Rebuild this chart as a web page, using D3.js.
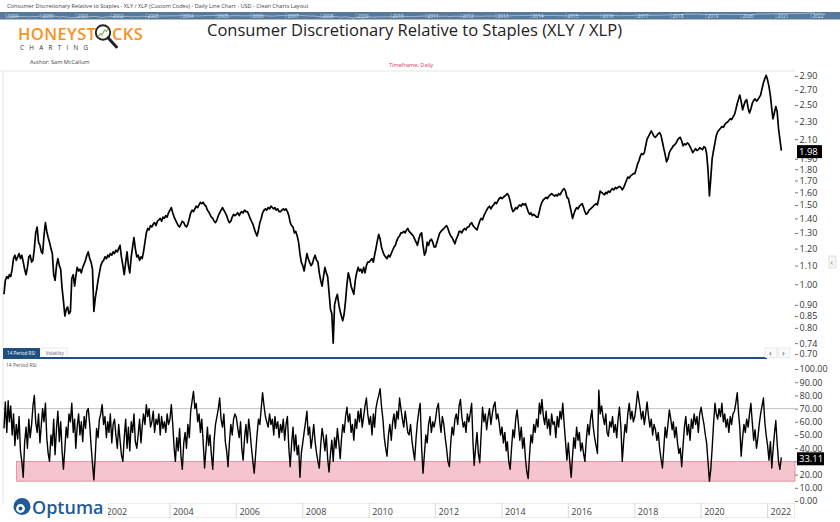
<!DOCTYPE html>
<html>
<head>
<meta charset="utf-8">
<script src="https://cdn.jsdelivr.net/npm/d3@7"></script>
<style>
  body { margin: 0; background: #fff; }
  svg { display: block; font-family: "Open Sans", "Segoe UI", sans-serif; }
</style>
</head>
<body>
<script>
const xlyXlp = [
  0.95,1.02,1.04,1.03,1.05,1.04,1.08,1.14,1.16,1.13,1.15,1.17,1.14,1.16,1.12,1.08,1.05,1.09,1.15,1.16,1.12,1.13,1.20,1.30, // 1999
  1.34,1.24,1.22,1.18,1.17,1.28,1.37,1.31,1.27,1.24,1.20,1.17,1.05,1.02,1.10,1.14,1.10,1.08,0.98,0.92,0.85,0.88,0.89,0.86, // 2000
  0.87,1.03,1.05,0.99,1.04,1.09,1.07,1.08,1.06,1.09,1.11,1.13,1.16,1.18,1.14,1.12,1.08,0.87,0.93,0.97,1.02,1.06,1.10,1.12, // 2001
  1.13,1.15,1.14,1.16,1.15,1.17,1.16,1.18,1.17,1.19,1.18,1.20,1.22,1.15,1.10,1.05,1.12,1.18,1.10,1.06,1.15,1.21,1.27,1.20, // 2002
  1.15,1.16,1.13,1.15,1.14,1.18,1.24,1.30,1.33,1.32,1.35,1.34,1.36,1.37,1.35,1.38,1.39,1.40,1.38,1.41,1.40,1.42,1.41,1.44, // 2003
  1.46,1.48,1.44,1.41,1.39,1.37,1.35,1.34,1.36,1.38,1.37,1.35,1.34,1.36,1.40,1.44,1.46,1.45,1.47,1.49,1.48,1.50,1.52,1.51, // 2004
  1.52,1.50,1.49,1.46,1.45,1.43,1.41,1.40,1.38,1.37,1.39,1.42,1.44,1.46,1.48,1.46,1.44,1.42,1.39,1.37,1.38,1.41,1.43,1.42, // 2005
  1.43,1.44,1.42,1.44,1.45,1.44,1.46,1.45,1.45,1.43,1.40,1.38,1.36,1.33,1.30,1.28,1.32,1.37,1.40,1.44,1.46,1.47,1.46,1.48, // 2006
  1.47,1.49,1.48,1.47,1.48,1.46,1.47,1.45,1.45,1.46,1.47,1.46,1.47,1.45,1.42,1.37,1.35,1.34,1.30,1.31,1.28,1.24,1.17,1.12, // 2007
  1.10,1.07,1.12,1.17,1.14,1.12,1.10,1.11,1.14,1.16,1.13,1.12,1.06,1.02,0.99,1.04,1.09,1.06,1.04,0.96,0.88,0.86,0.74,0.90, // 2008
  0.93,0.95,0.90,0.87,0.85,0.83,0.86,0.92,1.00,1.06,1.03,0.99,0.97,0.95,1.02,1.06,1.09,1.07,1.08,1.06,1.09,1.06,1.10,1.12, // 2009
  1.12,1.13,1.14,1.12,1.16,1.20,1.25,1.29,1.26,1.21,1.18,1.16,1.15,1.14,1.16,1.15,1.17,1.19,1.21,1.22,1.25,1.27,1.28,1.30, // 2010
  1.30,1.31,1.30,1.32,1.33,1.31,1.30,1.29,1.28,1.26,1.24,1.22,1.26,1.29,1.30,1.22,1.16,1.18,1.24,1.22,1.25,1.26,1.24,1.21, // 2011
  1.21,1.24,1.27,1.30,1.31,1.32,1.33,1.34,1.35,1.33,1.30,1.28,1.27,1.25,1.23,1.26,1.28,1.31,1.31,1.30,1.32,1.33,1.32,1.34, // 2012
  1.34,1.36,1.37,1.35,1.34,1.33,1.32,1.35,1.38,1.40,1.39,1.42,1.44,1.46,1.48,1.49,1.47,1.49,1.50,1.52,1.51,1.53,1.55,1.56, // 2013
  1.55,1.56,1.57,1.58,1.59,1.57,1.53,1.48,1.45,1.46,1.48,1.47,1.49,1.50,1.49,1.51,1.50,1.51,1.48,1.45,1.43,1.44,1.42,1.43, // 2014
  1.42,1.41,1.41,1.45,1.49,1.52,1.54,1.55,1.56,1.55,1.57,1.58,1.59,1.58,1.57,1.58,1.57,1.59,1.58,1.60,1.62,1.63,1.61,1.56, // 2015
  1.55,1.50,1.45,1.40,1.43,1.46,1.48,1.47,1.49,1.50,1.51,1.48,1.45,1.43,1.44,1.46,1.47,1.48,1.49,1.50,1.51,1.50,1.55,1.61, // 2016
  1.60,1.59,1.58,1.60,1.59,1.61,1.60,1.62,1.63,1.62,1.64,1.63,1.64,1.65,1.64,1.62,1.64,1.67,1.70,1.73,1.72,1.74,1.75,1.76, // 2017
  1.76,1.80,1.85,1.88,1.92,1.95,1.94,1.96,2.03,2.10,2.13,2.16,2.19,2.16,2.13,2.12,2.14,2.16,2.17,2.14,2.07,2.00,1.94,1.87, // 2018
  1.90,1.96,1.99,2.01,2.03,2.04,2.06,2.09,2.11,2.12,2.08,2.03,2.05,2.04,2.06,2.05,2.02,1.99,1.96,1.98,2.00,1.98,1.99,2.01, // 2019
  2.00,1.99,2.02,2.01,1.95,1.80,1.57,1.72,1.90,1.98,2.06,2.14,2.18,2.20,2.22,2.24,2.23,2.26,2.28,2.29,2.31,2.33,2.32,2.35, // 2020
  2.38,2.44,2.52,2.58,2.63,2.55,2.44,2.50,2.55,2.57,2.46,2.40,2.45,2.52,2.56,2.58,2.55,2.57,2.60,2.63,2.72,2.80,2.86,2.91, // 2021
  2.84,2.75,2.62,2.45,2.33,2.40,2.48,2.42,2.22,2.10,1.98                                                                   // 2022
];

// 14 period RSI, same dates
const rsi14 = [
  55,75,52,76,60,72,50,66,42,58,47,64,38,30,18,44,56,40,62,48,58,72,80,60, // 1999
  52,66,44,58,70,60,74,48,36,30,50,42,62,35,55,68,45,60,38,24,40,56,48,66, // 2000
  60,74,52,62,40,56,66,50,60,45,64,55,68,70,58,42,28,16,34,55,48,62,66,73, // 2001
  58,64,48,60,52,66,44,58,62,50,40,58,46,35,30,48,62,40,56,38,60,52,66,45, // 2002
  40,50,62,44,56,66,58,73,64,70,56,60,68,52,62,58,66,50,64,55,60,52,66,58, // 2003
  62,73,58,40,30,48,38,55,34,24,44,52,40,58,48,68,76,83,70,74,60,66,52,62, // 2004
  44,25,40,56,42,50,35,24,46,58,64,70,78,62,56,66,45,38,26,44,58,50,62,66, // 2005
  63,55,48,60,40,31,48,58,44,62,52,40,30,21,36,50,62,58,70,82,72,64,60,56, // 2006
  66,58,62,50,64,55,60,48,58,52,62,46,58,64,40,26,44,56,38,50,35,42,18,36, // 2007
  44,52,60,68,50,56,40,48,58,45,36,30,25,42,55,48,38,50,32,22,36,46,30,48, // 2008
  40,55,44,32,46,58,52,64,71,60,66,52,58,46,62,55,68,60,70,56,64,72,78,66, // 2009
  58,64,50,66,56,70,76,80,85,72,62,48,40,34,50,58,46,60,66,55,68,62,78,70, // 2010
  62,56,68,60,52,50,58,46,38,31,48,60,68,74,40,21,36,50,44,58,64,52,60,56, // 2011
  62,70,74,60,52,64,58,48,40,30,26,44,56,50,62,66,58,72,77,64,56,60,52,66, // 2012
  60,66,74,44,27,40,52,36,29,50,71,60,66,54,64,70,58,66,72,75,62,66,59,50, // 2013
  56,44,52,38,45,30,24,40,54,48,62,69,58,46,56,40,48,32,22,17,36,50,44,58, // 2014
  52,62,56,74,66,77,64,58,68,55,62,50,66,58,60,48,64,56,68,62,74,58,45,31, // 2015
  44,30,18,34,48,40,56,46,52,38,44,36,30,46,58,50,62,69,56,48,42,36,84,66, // 2016
  72,64,58,66,52,49,60,56,64,52,58,48,62,71,56,30,46,58,52,66,74,62,68,60, // 2017
  64,72,83,76,70,62,68,58,66,75,64,56,62,50,58,54,46,52,40,32,25,40,56,48, // 2018
  58,69,62,54,60,48,56,44,36,40,26,42,56,64,50,58,46,62,55,66,58,64,52,66, // 2019
  71,64,58,50,44,30,15,24,40,58,74,66,62,70,64,74,60,66,56,62,52,64,58,66, // 2020
  68,74,82,66,56,34,48,58,52,62,56,66,74,60,46,54,40,48,58,66,72,78,60,50, // 2021
  42,31,45,25,38,50,61,44,30,24,33.11                                      // 2022
];

const priceTicks = [2.90, 2.70, 2.50, 2.30, 2.10, 1.90, 1.80, 1.70, 1.60, 1.50, 1.40, 1.30, 1.20, 1.10, 1.00, 0.90, 0.85, 0.80, 0.74, 0.70];
const rsiTicks = [0, 10, 20, 30, 40, 50, 60, 70, 80, 90, 100];
const axisYears = [2002, 2004, 2006, 2008, 2010, 2012, 2014, 2016, 2018, 2020, 2022];
const navYears = d3.range(1999, 2023);
const rsiLevels = [70];
const oversold = { from: new Date(1999, 4, 20), lo: 15, hi: 30 };

// dates: 1st and 16th of each month starting Jan 1999
function dateAt(i) {
  const yr = 1999 + Math.floor(i / 24), h = i % 24;
  return new Date(yr, Math.floor(h / 2), h % 2 ? 16 : 1);
}
const priceData = xlyXlp.map((v, i) => ({ d: dateAt(i), v: v }));
const rsiData = rsi14.map((v, i) => ({ d: dateAt(i), v: v }));

const W = 840, H = 522;
const svg = d3.select("body").append("svg").attr("width", W).attr("height", H);

const x = d3.scaleTime().domain([new Date(2002, 0, 1), new Date(2022, 0, 1)]).range([103.6, 767.6]);
const y = d3.scaleLog().domain([0.70, 2.90]).range([354, 76]);
const yR = d3.scaleLinear().domain([0, 100]).range([501, 369]);
const axisX = 795;

// ---- header ----
svg.append("text").attr("x", 7).attr("y", 8).attr("font-size", 5.6).attr("fill", "#444")
  .text("Consumer Discretionary Relative to Staples - XLY / XLP (Custom Codes) - Daily Line Chart - USD - Clean Charts Layout");

// navigator strip
const navX = d3.scaleTime().domain([new Date(2000, 0, 1), new Date(2022, 0, 1)]).range([41, 811]);
const navY = d3.scaleLog().domain([0.7, 2.9]).range([18.5, 13]);
svg.append("rect").attr("x", 0).attr("y", 12).attr("width", W).attr("height", 7.5).attr("fill", "#56799c");
svg.append("path").datum(priceData)
  .attr("d", d3.line().x(d => navX(d.d)).y(d => navY(d.v)))
  .attr("fill", "none").attr("stroke", "#c9d6e3").attr("stroke-width", 0.7);
const navG = svg.append("g");
navYears.forEach(yr => {
  const px = navX(new Date(yr, 0, 1));
  navG.append("line").attr("x1", px).attr("x2", px).attr("y1", 13).attr("y2", 18.5).attr("stroke", "#9fb6cc").attr("stroke-width", 0.6);
  navG.append("text").attr("x", px + 1.5).attr("y", 17.6).attr("font-size", 4.8).attr("fill", "#dbe4ee").text(yr);
});

// honeystocks logo
const logo = svg.append("g");
logo.append("text").attr("x", 18).attr("y", 39.5).attr("font-size", 16.5).attr("font-weight", 600)
  .attr("fill", "#f7941d").attr("letter-spacing", 0.4).text("HONEYST");
logo.append("circle").attr("cx", 103).attr("cy", 32.5).attr("r", 7.2).attr("fill", "#fff").attr("stroke", "#222").attr("stroke-width", 1.9);
logo.append("polyline").attr("points", "98,36.5 100.5,33.5 102,35 104.5,30 106.5,31.5 108,28.5")
  .attr("fill", "none").attr("stroke", "#7cb342").attr("stroke-width", 1.1);
logo.append("line").attr("x1", 108).attr("y1", 37.8).attr("x2", 116.5).attr("y2", 47)
  .attr("stroke", "#222").attr("stroke-width", 3).attr("stroke-linecap", "round");
logo.append("text").attr("x", 112).attr("y", 39.5).attr("font-size", 16.5).attr("font-weight", 600)
  .attr("fill", "#f7941d").attr("letter-spacing", 0.4).text("CKS");
logo.append("text").attr("x", 20).attr("y", 49.5).attr("font-size", 6.3).attr("fill", "#333")
  .attr("letter-spacing", 5.3).text("CHARTING");

svg.append("text").attr("x", 207).attr("y", 36).attr("font-size", 16).attr("fill", "#222")
  .attr("textLength", 415).attr("lengthAdjust", "spacingAndGlyphs")
  .text("Consumer Discretionary Relative to Staples (XLY / XLP)");
svg.append("text").attr("x", 30).attr("y", 64).attr("font-size", 5.6).attr("fill", "#444").text("Author: Sam McCallum");
svg.append("text").attr("x", 389).attr("y", 66.5).attr("font-size", 5.6).attr("fill", "#d4375f").text("Timeframe: Daily");

// ---- main panel ----
svg.append("line").attr("x1", 0).attr("x2", axisX).attr("y1", 71).attr("y2", 71).attr("stroke", "#e6e6e6");
svg.append("line").attr("x1", 3).attr("x2", 3).attr("y1", 71).attr("y2", 347).attr("stroke", "#e2e2e2");

svg.append("clipPath").attr("id", "clipMain").append("rect").attr("x", 3).attr("y", 71).attr("width", axisX - 3).attr("height", 276);
svg.append("path").datum(priceData).attr("clip-path", "url(#clipMain)")
  .attr("d", d3.line().x(d => x(d.d)).y(d => y(d.v)))
  .attr("fill", "none").attr("stroke", "#000").attr("stroke-width", 1.7).attr("stroke-linejoin", "round");

const yAxis = svg.append("g").attr("transform", `translate(${axisX},0)`)
  .call(d3.axisRight(y).tickValues(priceTicks).tickFormat(d3.format(".2f")).tickSize(3).tickPadding(1.5));
yAxis.select(".domain").remove();
yAxis.selectAll("line").attr("stroke", "#777");
yAxis.selectAll("text").attr("font-size", 9).attr("fill", "#333").attr("font-family", "Open Sans, sans-serif");

const lastP = priceData[priceData.length - 1];
svg.append("rect").attr("x", 797).attr("y", y(lastP.v) - 5.5).attr("width", 25).attr("height", 13).attr("fill", "#000");
svg.append("text").attr("x", 799).attr("y", y(lastP.v) + 4.5).attr("font-size", 9.5).attr("fill", "#fff").text(d3.format(".2f")(lastP.v));

// collapse handle on the right
svg.append("rect").attr("x", 829).attr("y", 256).attr("width", 7).attr("height", 12).attr("fill", "#f6f6f6").attr("stroke", "#ccc").attr("stroke-width", 0.6);
svg.append("text").attr("x", 830.5).attr("y", 265).attr("font-size", 8).attr("fill", "#666").text("‹");

// ---- tabs ----
svg.append("rect").attr("x", 3).attr("y", 348).attr("width", 37).attr("height", 9.5).attr("fill", "#1d4f80");
svg.append("text").attr("x", 7).attr("y", 355).attr("font-size", 4.6).attr("fill", "#fff").text("14 Period RSI");
svg.append("rect").attr("x", 41).attr("y", 348).attr("width", 26).attr("height", 9.5).attr("fill", "#fff").attr("stroke", "#ddd").attr("stroke-width", 0.6);
svg.append("text").attr("x", 45.5).attr("y", 355).attr("font-size", 4.6).attr("fill", "#555").text("Volatility");
svg.append("line").attr("x1", 3).attr("x2", 767).attr("y1", 358).attr("y2", 358).attr("stroke", "#1d4f80").attr("stroke-width", 1.8);
[["‹", 765], ["›", 778]].forEach(b => {
  svg.append("rect").attr("x", b[1]).attr("y", 348).attr("width", 12).attr("height", 9.5).attr("fill", "#fafafa").attr("stroke", "#ddd").attr("stroke-width", 0.6);
  svg.append("text").attr("x", b[1] + 4).attr("y", 356).attr("font-size", 9).attr("fill", "#555").text(b[0]);
});

// ---- RSI panel ----
svg.append("line").attr("x1", 3).attr("x2", 3).attr("y1", 359).attr("y2", 503).attr("stroke", "#e2e2e2");
svg.append("text").attr("x", 6).attr("y", 366.5).attr("font-size", 5).attr("fill", "#555").text("14 Period RSI");

svg.append("rect").attr("x", x(oversold.from)).attr("y", yR(oversold.hi))
  .attr("width", axisX - x(oversold.from)).attr("height", yR(oversold.lo) - yR(oversold.hi))
  .attr("fill", "#f6c4ce").attr("stroke", "#dc8797").attr("stroke-width", 0.8);
rsiLevels.forEach(l => {
  svg.append("line").attr("x1", 3).attr("x2", axisX).attr("y1", yR(l)).attr("y2", yR(l)).attr("stroke", "#b5b5b5").attr("stroke-width", 0.8);
});

svg.append("clipPath").attr("id", "clipRsi").append("rect").attr("x", 3).attr("y", 360).attr("width", axisX - 3).attr("height", 143);
svg.append("path").datum(rsiData).attr("clip-path", "url(#clipRsi)")
  .attr("d", d3.line().x(d => x(d.d)).y(d => yR(d.v)))
  .attr("fill", "none").attr("stroke", "#000").attr("stroke-width", 1.4).attr("stroke-linejoin", "round");

const rAxis = svg.append("g").attr("transform", `translate(${axisX},0)`)
  .call(d3.axisRight(yR).tickValues(rsiTicks).tickFormat(d3.format(".2f")).tickSize(3).tickPadding(1.5));
rAxis.select(".domain").remove();
rAxis.selectAll("line").attr("stroke", "#777");
rAxis.selectAll("text").attr("font-size", 9).attr("fill", "#333").attr("font-family", "Open Sans, sans-serif");

const lastR = rsiData[rsiData.length - 1];
svg.append("rect").attr("x", 797).attr("y", yR(lastR.v) - 5).attr("width", 27).attr("height", 13).attr("fill", "#000");
svg.append("text").attr("x", 799).attr("y", yR(lastR.v) + 5).attr("font-size", 9.5).attr("fill", "#fff").text(d3.format(".2f")(lastR.v));

// ---- date strip ----
svg.append("clipPath").attr("id", "clipAxis").append("rect").attr("x", 108).attr("y", 503).attr("width", axisX - 108).attr("height", 15);
const strip = svg.append("g").attr("clip-path", "url(#clipAxis)");
strip.append("rect").attr("x", 108).attr("y", 503).attr("width", axisX - 108).attr("height", 15)
  .attr("fill", "#fff").attr("stroke", "#d9d9d9").attr("stroke-width", 1);
axisYears.forEach(yr => {
  const px = x(new Date(yr, 0, 1));
  strip.append("line").attr("x1", px).attr("x2", px).attr("y1", 503).attr("y2", 518).attr("stroke", "#d9d9d9");
  strip.append("text").attr("x", px + 3).attr("y", 514.5).attr("font-size", 9).attr("fill", "#444").text(yr);
});

// optuma logo
svg.append("circle").attr("cx", 22).attr("cy", 506.5).attr("r", 8.5).attr("fill", "#1f5a96");
svg.append("circle").attr("cx", 20.5).attr("cy", 508.5).attr("r", 4.4).attr("fill", "#fff");
svg.append("circle").attr("cx", 20.5).attr("cy", 508.5).attr("r", 2).attr("fill", "#1f5a96");
svg.append("text").attr("x", 32).attr("y", 514).attr("font-size", 18).attr("font-weight", 600)
  .attr("fill", "#1f5a96").text("Optuma");
</script>
</body>
</html>
